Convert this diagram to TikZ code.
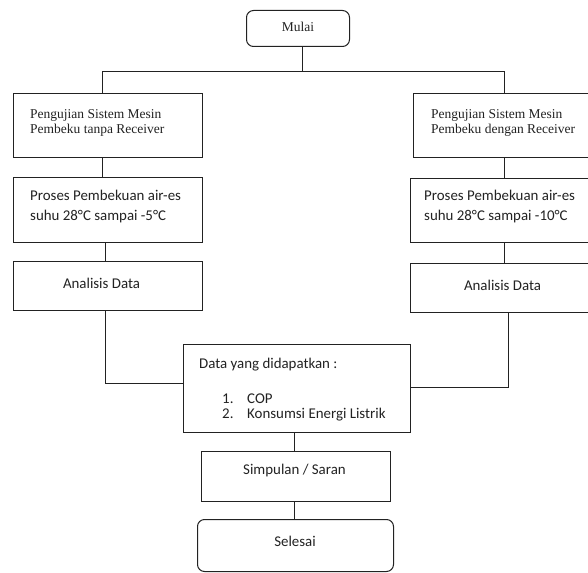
\documentclass[tikz,border=0pt]{standalone}
\usepackage{fontspec}
\setmainfont{Liberation Serif}
\newfontfamily\calfont{Carlito}
\definecolor{ink}{HTML}{222222}
\begin{document}
\begin{tikzpicture}[x=1pt,y=-1pt,
  bx/.style 2 args={draw=ink,line width=1pt,inner sep=0pt,minimum width=#1,minimum height=#2,anchor=north west},
  rbx/.style 2 args={bx={#1}{#2},rounded corners=7pt},
  ser/.style={inner sep=0pt,text=ink,font=\fontsize{13.5}{15}\selectfont},
  sans/.style={inner sep=0pt,text=ink,font=\calfont\fontsize{14.9}{20}\selectfont},
  link/.style={draw=ink,line width=1pt}]
\fill[white] (0,0) rectangle (588,572);
\useasboundingbox (0,0) rectangle (588,572);

% boxes
\node[rbx={103pt}{36pt}] (mulai) at (246,10) {};
\node[bx={189pt}{64pt}] (l1) at (13,93) {};
\node[bx={190pt}{64pt}] (r1) at (413,93) {};
\node[bx={189pt}{65pt}] (l2) at (13,177) {};
\node[bx={190pt}{64pt}] (r2) at (410,178) {};
\node[bx={189pt}{49pt}] (la) at (13,261) {};
\node[bx={190pt}{49pt}] (ra) at (410,263) {};
\node[bx={227pt}{88pt}] (data) at (183,344) {};
\node[bx={189pt}{50pt}] (simp) at (201,451) {};
\node[rbx={196pt}{52pt}] (sel) at (197,519) {};

% texts
\node[ser,anchor=base] (mulait) at (298,32) {Mulai};
\node[ser,anchor=base west] (l1a) at (30,119) {Pengujian Sistem Mesin};
\node[ser,anchor=base west] (l1b) at (30,134) {Pembeku tanpa Receiver};
\node[ser,anchor=base west] (r1a) at (431,119) {Pengujian Sistem Mesin};
\node[ser,anchor=base west] (r1b) at (431,134) {Pembeku dengan Receiver};
\node[sans,anchor=base west] (l2a) at (30,200.7) {Proses Pembekuan air-es};
\node[sans,anchor=base west] (l2b) at (30,220.7) {suhu 28°C sampai -5°C};
\node[sans,anchor=base west] (r2a) at (424,200.7) {Proses Pembekuan air-es};
\node[sans,anchor=base west] (r2b) at (424,220.7) {suhu 28°C sampai -10°C};
\node[sans,anchor=base] (lat) at (101.5,288.3) {Analisis Data};
\node[sans,anchor=base] (rat) at (502.5,290.7) {Analisis Data};
\node[sans,anchor=base west] (d0) at (199,368) {Data yang didapatkan :};
\node[sans,anchor=base west] (d1n) at (222,403.3) {1.};
\node[sans,anchor=base west] (d1) at (247,403.3) {COP};
\node[sans,anchor=base west] (d2n) at (222,418.3) {2.};
\node[sans,anchor=base west] (d2) at (247,418.3) {Konsumsi Energi Listrik};
\node[sans,anchor=base] (simpt) at (294.5,474) {Simpulan / Saran};
\node[sans,anchor=base] (selt) at (295,546) {Selesai};

% connector coordinates
\coordinate (split) at (302,72);
\coordinate (splitL) at (102,72);
\coordinate (splitR) at (504,72);
\coordinate (lx2) at (105,383);
\coordinate (rx2) at (508,387);
\coordinate (cx) at (294.5,0);

% connectors
\draw[link] (mulai.south -| split) -- (split);
\draw[link] (l1.north -| splitL) -- (splitL) -- (splitR) -- (r1.north -| splitR);
\draw[link] (l1.south -| splitL) -- (l2.north -| splitL);
\draw[link] (l2.south -| lx2) -- (la.north -| lx2);
\draw[link] (la.south -| lx2) -- (lx2) -- (data.west |- lx2);
\draw[link] (r1.south -| splitR) -- (r2.north -| splitR);
\draw[link] (r2.south -| splitR) -- (ra.north -| splitR);
\draw[link] (ra.south -| rx2) -- (rx2) -- (data.east |- rx2);
\draw[link] (data.south -| cx) -- (simp.north -| cx);
\draw[link] (simp.south -| cx) -- (sel.north -| cx);
\end{tikzpicture}
\end{document}
